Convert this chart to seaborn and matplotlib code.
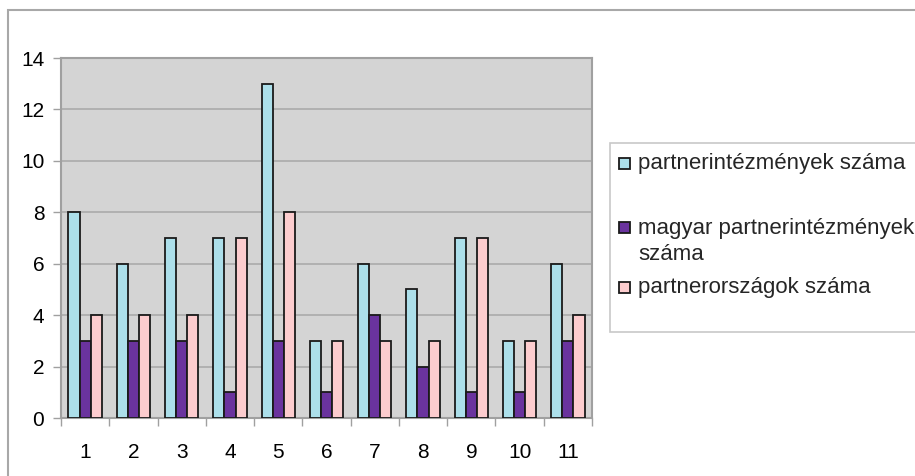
import matplotlib
matplotlib.use("Agg")
import matplotlib.pyplot as plt
from matplotlib.patches import Rectangle
import seaborn as sns
import pandas as pd

categories = ["1", "2", "3", "4", "5", "6", "7", "8", "9", "10", "11"]
series_names = ["partnerintézmények száma",
                "magyar partnerintézmények száma",
                "partnerországok száma"]
legend_labels = ["partnerintézmények száma",
                 "magyar partnerintézmények\nszáma",
                 "partnerországok száma"]
partner_inst = [8, 6, 7, 7, 13, 3, 6, 5, 7, 3, 6]
hungarian_inst = [3, 3, 3, 1, 3, 1, 4, 2, 1, 1, 3]
partner_countries = [4, 4, 4, 7, 8, 3, 3, 3, 7, 3, 4]
colors = ["#ACDFEA", "#6A339E", "#FCCCCE"]
y_ticks = [0, 2, 4, 6, 8, 10, 12, 14]

rows = []
for name, vals in zip(series_names, [partner_inst, hungarian_inst, partner_countries]):
    for c, v in zip(categories, vals):
        rows.append({"cat": c, "series": name, "value": v})
df = pd.DataFrame(rows)

sns.set_theme(style="white")
plt.rcParams['font.family'] = ['Liberation Sans', 'DejaVu Sans']

fig = plt.figure(figsize=(9.15, 4.76), dpi=100)
ax = fig.add_axes([61/915, 1-418/476, (592-61)/915, (418-58)/476])
ax.set_facecolor("#D4D4D4")

sns.barplot(data=df, x="cat", y="value", hue="series", order=categories,
            hue_order=series_names, palette=colors, width=0.69, gap=0,
            edgecolor="#1a1a1a", linewidth=1.3, saturation=1, ax=ax,
            legend=False, zorder=3)

ax.set_ylim(0, 14)
ax.set_xlim(-0.5, len(categories) - 0.5)
ax.set_yticks(y_ticks)
ax.set_yticklabels([str(t) for t in y_ticks])
ax.yaxis.grid(True, color="#AAAAAA", linewidth=1.2, zorder=0)
ax.set_axisbelow(True)
ax.set_xlabel("")
ax.set_ylabel("")

for s in ax.spines.values():
    s.set_color("#A0A0A0")
    s.set_linewidth(1.5)
    s.set_visible(True)

ax.tick_params(axis="y", which="major", length=6, width=1, color="#A0A0A0",
               labelsize=15, pad=6, left=True, labelcolor="#000000")
ax.tick_params(axis="x", which="major", length=0, labelsize=15, pad=18,
               labelcolor="#000000")
ax.set_xticks([i - 0.5 for i in range(len(categories) + 1)], minor=True)
ax.tick_params(axis="x", which="minor", length=6, width=1, color="#A0A0A0",
               bottom=True)

# outer chart frame
fig.patches.append(Rectangle((8/915, -0.05), 1.0, 1 - 10/476 + 0.05,
                             transform=fig.transFigure, fill=False,
                             edgecolor="#A8A8A8", linewidth=1.5))

# legend box
lx0, ly0, lx1, ly1 = 610, 143, 930, 332
fig.patches.append(Rectangle((lx0/915, 1-ly1/476), (lx1-lx0)/915, (ly1-ly0)/476,
                             transform=fig.transFigure, facecolor="white",
                             edgecolor="#C8C8C8", linewidth=1.2))
entry_y = [163, 227, 287]
for col, lab, yc in zip(colors, legend_labels, entry_y):
    fig.patches.append(Rectangle((619/915, 1-(yc+6)/476), 11/915, 11/476,
                                 transform=fig.transFigure, facecolor=col,
                                 edgecolor="#1a1a1a", linewidth=1.3))
    if "\n" in lab:
        fig.text(638/915, 1-(227-9)/476, lab, fontsize=16, va="top",
                 ha="left", linespacing=1.3)
    else:
        fig.text(638/915, 1-yc/476, lab, fontsize=16, va="center", ha="left")

fig.savefig("out.png", dpi=100, facecolor="white")
